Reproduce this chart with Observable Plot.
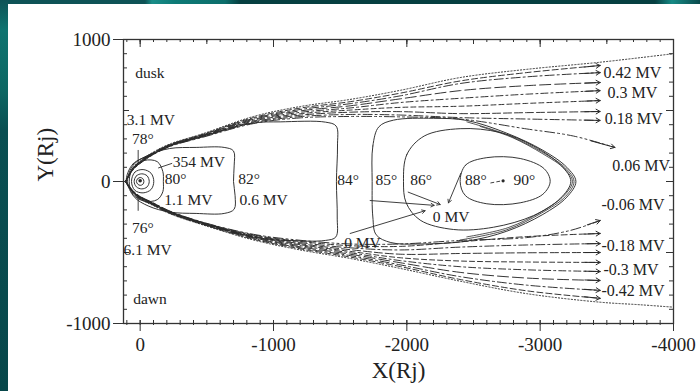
<!DOCTYPE html>
<html><head><meta charset="utf-8">
<script src="https://cdn.jsdelivr.net/npm/d3@7"></script>
<script src="https://cdn.jsdelivr.net/npm/@observablehq/plot@0.6"></script>
<style>
html,body{margin:0;padding:0;}
body{width:700px;height:391px;overflow:hidden;position:relative;background:#0b4a4c;}
#topstrip{position:absolute;left:0;top:0;width:700px;height:6px;background:linear-gradient(90deg,#0e5356 0px,#0e5356 145px,#1a8d88 152px,#0d7a76 175px,#0c6e6b 225px,#063f41 240px,#063f41 655px,#168a85 672px,#0b4a4c 700px);}
#leftstrip{position:absolute;left:0;top:0;width:9px;height:391px;background:linear-gradient(180deg,#0e5356 0px,#0f7470 30px,#0d6763 90px,#0a4f52 130px,#07474a 391px);}
#panel{position:absolute;left:8px;top:4px;width:692px;height:387px;background:#fff;}
#chart{position:absolute;left:0;top:0;}
</style></head>
<body><div id="topstrip"></div><div id="leftstrip"></div><div id="panel"></div><div id="chart"></div>
<script>
// ---------- data (X, Y in Rj) ----------
const xMajorTicks = [0, -1000, -2000, -3000, -4000];
const xTickLabels = ["0", "-1000", "-2000", "-3000", "-4000"];
const yMajorTicks = [1000, 0, -1000];
const yTickLabels = ["1000", "0", "-1000"];

// open field lines (dusk side), sampled on a common X grid
const gridX = [110, 50, 0, -100, -225, -475, -850, -1200, -1575, -1950, -2400, -2900, -3450];
const duskDotted = [0, 102, 145, 208, 265, 338, 458, 528, 578, 642, 732, 790, 840];
const duskA = [0, 99, 141, 204, 261, 334, 450, 517, 562, 622, 708, 767, 817];
const duskB = [0, 97, 139, 202, 259, 331, 444, 507, 548, 603, 690, 737, 767];
const duskC = [0, 95, 137, 200, 257, 328, 438, 497, 533, 582, 640, 675, 697];
const duskD = [0, 93, 135, 198, 255, 325, 432, 487, 518, 556, 586, 615, 640];
const duskE = [0, 91, 133, 196, 253, 322, 426, 477, 503, 522, 530, 550, 570];
const duskF = [0, 89, 131, 194, 251, 319, 420, 467, 488, 492, 478, 485, 493];
const duskG = [0, 87, 129, 192, 249, 316, 414, 457, 472, 468, 450, 440, 430];
const duskHX = [110, 50, 0, -100, -225, -475, -850, -1200, -1575, -1950, -2400, -2900, -3250, -3560];
const duskHY = [0, 85, 127, 190, 247, 313, 408, 448, 458, 455, 440, 370, 320, 240];
// dawn side
const dawnDotted = [0, -84, -124, -170, -228, -307, -412, -482, -542, -612, -702, -790, -850];
const dawnA = [0, -82, -121, -167, -225, -304, -406, -474, -532, -599, -690, -770, -823];
const dawnB = [0, -80, -119, -165, -223, -302, -401, -467, -522, -587, -670, -730, -767];
const dawnC = [0, -78, -117, -163, -221, -300, -396, -460, -512, -572, -640, -680, -697];
const dawnD = [0, -77, -115, -161, -219, -298, -392, -452, -502, -557, -600, -622, -634];
const dawnE = [0, -76, -113, -159, -217, -296, -388, -445, -492, -537, -560, -567, -570];
const dawnF = [0, -74, -111, -157, -215, -294, -384, -438, -480, -512, -507, -502, -500];
const dawnG = [0, -72, -109, -155, -213, -292, -380, -430, -467, -482, -462, -447, -437];
const dawnH = [0, -70, -107, -153, -211, -290, -376, -422, -452, -457, -425, -388, -366];
const dawnIX = [110, 50, 0, -100, -225, -475, -850, -1200, -1575, -1950, -2400, -2900, -3225, -3450];
const dawnIY = [0, -68, -105, -151, -209, -288, -372, -414, -440, -440, -415, -395, -345, -275];
const tailX = [-3750, -4000];
const duskTail = [872, 900];
const dawnTail = [-868, -885];

// closed contours
const loop1 = [[28,0],[18,20],[0,28],[-20,20],[-28,0],[-20,-20],[0,-27],[18,-19]];
const loop2 = [[45,0],[28,40],[-12,54],[-52,40],[-68,0],[-52,-38],[-12,-52],[28,-38]];
const loop3 = [[65,0],[40,66],[-22,84],[-82,58],[-102,0],[-82,-56],[-22,-80],[40,-62]];
const c80 = [[82,0],[55,95],[-30,148],[-128,140],[-170,70],[-174,0],[-170,-72],[-128,-128],[-30,-138],[55,-90]];
const c82 = [[95,0],[50,118],[-60,185],[-220,232],[-420,240],[-630,240],[-700,215],[-705,110],[-700,0],[-712,-100],[-705,-195],[-630,-225],[-420,-225],[-220,-215],[-60,-172],[45,-108]];
const c84 = [[104,0],[54,124],[-100,194],[-225,252],[-475,322],[-850,412],[-1050,420],[-1390,418],[-1470,390],[-1480,250],[-1472,0],[-1478,-250],[-1468,-390],[-1390,-415],[-1050,-412],[-850,-392],[-475,-292],[-225,-214],[-100,-157],[54,-74]];
const c85 = [[-1740,0],[-1745,250],[-1790,385],[-1900,432],[-2200,445],[-2450,430],[-2750,340],[-3020,220],[-3200,100],[-3268,0],[-3200,-110],[-3020,-232],[-2750,-350],[-2450,-420],[-2100,-440],[-1880,-430],[-1770,-375],[-1745,-250]];
const arcA = [[-2450,420],[-2750,330],[-3010,210],[-3190,95],[-3254,0],[-3190,-105],[-3010,-222],[-2750,-340],[-2400,-412]];
const arcB = [[-2550,388],[-2790,310],[-3020,195],[-3185,88],[-3242,0],[-3180,-98],[-3010,-212],[-2760,-325],[-2450,-390]];
const c86 = [[-1975,0],[-2000,190],[-2130,320],[-2400,372],[-2700,345],[-2950,250],[-3160,110],[-3230,0],[-3150,-120],[-2950,-240],[-2650,-322],[-2350,-338],[-2100,-272],[-1995,-150]];
const c88 = [[-2400,0],[-2440,115],[-2600,168],[-2850,162],[-3030,90],[-3075,0],[-3020,-90],[-2850,-150],[-2600,-157],[-2440,-100]];
const point90 = [[-2722, 5]];
const link88to90 = [[-2630, -10], [-2715, 5]];

// pointers to the 0 MV points
const zeroArrows = [
  {x1: -1725, y1: -134, x2: -2205, y2: -168},
  {x1: -2010, y1: -75, x2: -2250, y2: -162},
  {x1: -2405, y1: 58, x2: -2312, y2: -150},
  {x1: -1575, y1: -366, x2: -2137, y2: -206}
];
const labelLeaders = [
  {x1: -240, y1: 128, x2: -135, y2: 95},
  {x1: 15, y1: 222, x2: 15, y2: 132},
  {x1: 15, y1: -100, x2: 15, y2: -206}
];

// texts
const inLabels = [
  {x: 37, y: 767, t: "dusk"},
  {x: 52, y: -831, t: "dawn"},
  {x: 100, y: 436, t: "3.1 MV"},
  {x: 62, y: 300, t: "78°"},
  {x: 62, y: -330, t: "76°"},
  {x: 125, y: -482, t: "6.1 MV"},
  {x: -245, y: 138, t: "354 MV"},
  {x: -185, y: 14, t: "80°"},
  {x: -180, y: -127, t: "1.1 MV"},
  {x: -735, y: 14, t: "82°"},
  {x: -745, y: -127, t: "0.6 MV"},
  {x: -1478, y: 7, t: "84°"},
  {x: -1765, y: 7, t: "85°"},
  {x: -2025, y: 7, t: "86°"},
  {x: -2437, y: 7, t: "88°"},
  {x: -2800, y: 7, t: "90°"},
  {x: -2195, y: -253, t: "0 MV"},
  {x: -1530, y: -430, t: "0 MV"}
];
const rightLabels = [
  {x: -3475, y: 767, t: "0.42 MV"},
  {x: -3505, y: 627, t: "0.3 MV"},
  {x: -3485, y: 443, t: "0.18 MV"},
  {x: -3540, y: 113, t: "0.06 MV"},
  {x: -3460, y: -162, t: "-0.06 MV"},
  {x: -3460, y: -450, t: "-0.18 MV"},
  {x: -3475, y: -620, t: "-0.3 MV"},
  {x: -3460, y: -772, t: "-0.42 MV"}
];

// ---------- build ----------
const W = 700, H = 391, mL = 123, mR = 27, mT = 39, mB = 68;
const PW = W - mL - mR, PH = H - mT - mB;
const serif = "'Liberation Serif','Times New Roman',serif";
const ink = "#2a2a2a";

const toPts = (xs, ys) => xs.map((x, i) => ({x, y: ys[i]}));
const pairPts = arr => arr.map(([x, y]) => ({x, y}));

const openLines = [
  {pts: toPts(gridX.concat(tailX), duskDotted.concat(duskTail)), dash: "1.2,2", arrow: false},
  {pts: toPts(gridX, duskA), dash: "6,3", arrow: true},
  {pts: toPts(gridX, duskB), dash: "9,3,2,3", arrow: true},
  {pts: toPts(gridX, duskC), dash: "11,4", arrow: true},
  {pts: toPts(gridX, duskD), dash: "7,3,2,3", arrow: true},
  {pts: toPts(gridX, duskE), dash: "5,3", arrow: true},
  {pts: toPts(gridX, duskF), dash: "8,3", arrow: true},
  {pts: toPts(gridX, duskG), dash: "9,3,2,3", arrow: true},
  {pts: toPts(duskHX, duskHY), dash: "10,3,2,3,2,3", arrow: true},
  {pts: toPts(gridX.concat(tailX), dawnDotted.concat(dawnTail)), dash: "1.2,2", arrow: false},
  {pts: toPts(gridX, dawnA), dash: "6,3", arrow: true},
  {pts: toPts(gridX, dawnB), dash: "9,3,2,3", arrow: true},
  {pts: toPts(gridX, dawnC), dash: "11,4", arrow: true},
  {pts: toPts(gridX, dawnD), dash: "7,3,2,3", arrow: true},
  {pts: toPts(gridX, dawnE), dash: "5,3", arrow: true},
  {pts: toPts(gridX, dawnF), dash: "8,3", arrow: true},
  {pts: toPts(gridX, dawnG), dash: "9,3,2,3", arrow: true},
  {pts: toPts(gridX, dawnH), dash: "6,3", arrow: true},
  {pts: toPts(dawnIX, dawnIY), dash: "10,3,2,3,2,3", arrow: true}
];

const longArrows = [], shortArrows = [];
openLines.forEach(l => {
  if (!l.arrow) return;
  const n = l.pts.length, a = l.pts[n - 2], b = l.pts[n - 1];
  const rec = {x1: a.x, y1: a.y, x2: b.x, y2: b.y};
  (n === gridX.length ? longArrows : shortArrows).push(rec);
});

const closedLoops = [loop1, loop2, loop3, c80, c82, c84, c85, c86, c88].map(pairPts);
const openArcs = [arcA, arcB].map(pairPts);

const minorX = d3.range(100, -4001, -100);
const midX = d3.range(0, -4001, -500);
const minorY = d3.range(-1000, 1001, 100);
const midY = [-500, 500];

const tk = {stroke: "#333", strokeWidth: 1};
const marks = [];

openLines.forEach(l => marks.push(Plot.line(l.pts, {x: "x", y: "y", curve: "catmull-rom", stroke: ink, strokeWidth: 0.95, strokeDasharray: l.dash})));
closedLoops.forEach(p => marks.push(Plot.line(p, {x: "x", y: "y", curve: "catmull-rom-closed", stroke: ink, strokeWidth: 0.95})));
openArcs.forEach(p => marks.push(Plot.line(p, {x: "x", y: "y", curve: "catmull-rom", stroke: ink, strokeWidth: 0.8})));
marks.push(Plot.arrow(longArrows, {x1: "x1", y1: "y1", x2: "x2", y2: "y2", insetStart: 58, headLength: 7, stroke: ink, strokeWidth: 1}));
marks.push(Plot.arrow(shortArrows, {x1: "x1", y1: "y1", x2: "x2", y2: "y2", insetStart: 18, headLength: 7, stroke: ink, strokeWidth: 1}));
marks.push(Plot.arrow(zeroArrows, {x1: "x1", y1: "y1", x2: "x2", y2: "y2", headLength: 6, stroke: ink, strokeWidth: 0.9}));
marks.push(Plot.link(labelLeaders, {x1: "x1", y1: "y1", x2: "x2", y2: "y2", stroke: ink, strokeWidth: 0.9}));
marks.push(Plot.line(pairPts(link88to90), {x: "x", y: "y", stroke: ink, strokeWidth: 0.9, strokeDasharray: "3,3"}));
marks.push(Plot.dot(pairPts(point90), {x: "x", y: "y", r: 1.6, fill: ink}));
marks.push(Plot.dot([{x: 0, y: 5}], {x: "x", y: "y", r: 1.8, fill: ink}));

marks.push(Plot.frame({stroke: "#333", strokeWidth: 1.3}));
marks.push(Plot.tickX(minorX, {x: d => d, insetTop: 0, insetBottom: PH - 3, ...tk}));
marks.push(Plot.tickX(midX, {x: d => d, insetTop: 0, insetBottom: PH - 5, ...tk}));
marks.push(Plot.tickX(xMajorTicks, {x: d => d, insetTop: 0, insetBottom: PH - 8, ...tk}));
marks.push(Plot.tickX(minorX, {x: d => d, insetTop: PH - 3, insetBottom: -2, ...tk}));
marks.push(Plot.tickX(xMajorTicks, {x: d => d, insetTop: PH - 3, insetBottom: -8, ...tk}));
marks.push(Plot.tickY(minorY, {y: d => d, insetLeft: 0, insetRight: PW - 4, ...tk}));
marks.push(Plot.tickY(midY, {y: d => d, insetLeft: 0, insetRight: PW - 6, ...tk}));
marks.push(Plot.tickY(yMajorTicks, {y: d => d, insetLeft: -10, insetRight: PW - 3, ...tk}));
marks.push(Plot.tickY(minorY, {y: d => d, insetLeft: PW - 4, insetRight: 0, ...tk}));
marks.push(Plot.tickY(yMajorTicks.concat(midY), {y: d => d, insetLeft: PW - 7, insetRight: 0, ...tk}));

marks.push(Plot.text(xMajorTicks, {x: d => d, frameAnchor: "bottom", dy: 27, text: (d, i) => xTickLabels[i], fontSize: 19, fontFamily: serif, fill: "#222"}));
marks.push(Plot.text(yMajorTicks, {y: d => d, frameAnchor: "left", dx: -13, textAnchor: "end", text: (d, i) => yTickLabels[i], fontSize: 19, fontFamily: serif, fill: "#222"}));
marks.push(Plot.text(["X(Rj)"], {frameAnchor: "bottom", dy: 54, text: d => d, fontSize: 23, fontFamily: serif, fill: "#222"}));
marks.push(Plot.text(["Y(Rj)"], {frameAnchor: "left", dx: -78, rotate: -90, text: d => d, fontSize: 23, fontFamily: serif, fill: "#222"}));
marks.push(Plot.text(inLabels, {x: "x", y: "y", text: "t", textAnchor: "start", fontSize: 15.5, fontFamily: serif, fill: "#222"}));
marks.push(Plot.text(rightLabels, {x: "x", y: "y", text: "t", textAnchor: "start", fontSize: 16, fontFamily: serif, fill: "#222"}));

const chart = Plot.plot({
  width: W, height: H,
  marginLeft: mL, marginRight: mR, marginTop: mT, marginBottom: mB,
  x: {domain: [125, -4000], axis: null},
  y: {domain: [-1000, 1000], axis: null},
  style: {background: "transparent", fontFamily: serif, color: "#222", overflow: "visible"},
  marks
});
document.getElementById("chart").appendChild(chart);
</script>
</body></html>
